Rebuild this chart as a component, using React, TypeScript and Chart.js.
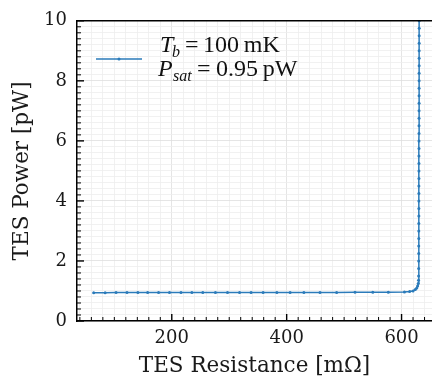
import React, { useEffect, useRef } from 'react';
import { Chart, registerables } from 'chart.js';

Chart.register(...registerables);

// TES resistance [mΩ]
const resistance: number[] = [
  64, 84, 103, 122, 141, 158, 177, 196, 216, 235, 254, 276, 297, 318, 338, 359,
  383, 406, 430, 458, 487, 519, 550, 577, 605, 614, 620, 624, 626.5, 628, 629, 629.6,
  629.7, 629.8, 629.85, 629.9, 629.95, 630.0, 630.0, 630.05, 630.1, 630.1, 630.15,
  630.2, 630.2, 630.25, 630.25, 630.3, 630.3, 630.35, 630.35, 630.4, 630.4, 630.45,
  630.45, 630.5, 630.5, 630.5, 630.55, 630.55, 630.6, 630.6, 630.6, 630.65, 630.65,
  630.7, 630.7, 630.7, 630.75,
];
// TES power [pW]
const power: number[] = [
  0.94, 0.945, 0.948, 0.95, 0.95, 0.95, 0.95, 0.95, 0.95, 0.95, 0.95, 0.95, 0.95, 0.95, 0.95, 0.95,
  0.95, 0.95, 0.95, 0.95, 0.952, 0.955, 0.957, 0.96, 0.965, 0.98, 1.0, 1.05, 1.1, 1.17, 1.25, 1.36,
  1.5, 1.75, 2.0, 2.25, 2.5, 2.75, 3.0, 3.25, 3.5, 3.75, 4.0,
  4.25, 4.5, 4.75, 5.0, 5.25, 5.5, 5.75, 6.0, 6.25, 6.5, 6.75,
  7.0, 7.25, 7.5, 7.75, 8.0, 8.25, 8.5, 8.75, 9.0, 9.25, 9.5,
  9.75, 10.0, 10.25, 10.5,
];

const xMajorTicks: number[] = [200, 400, 600];
const yMajorTicks: number[] = [0, 2, 4, 6, 8, 10];
const xRange: number[] = [35, 653];
const yRange: number[] = [0, 10];

const legendT = { sym: 'T', sub: 'b', rest: '100\u2009mK' };
const legendP = { sym: 'P', sub: 'sat', rest: '0.95\u2009pW' };

const LINE_COLOR = '#2b7bba';
const SERIF = '"DejaVu Serif", serif';
const MATH = '"Liberation Serif", "DejaVu Serif", serif';

const near = (a: number, b: number) => Math.abs(a - b) < 1e-6;
const isXMajor = (v: number) => xMajorTicks.some((t) => near(t, v));
const isYMajor = (v: number) => yMajorTicks.some((t) => near(t, v));

const decorPlugin = {
  id: 'decor',
  afterDraw(chart: any) {
    const { ctx, chartArea: a, scales } = chart;
    const xs = scales.x;
    const ys = scales.y;
    ctx.save();
    ctx.strokeStyle = '#000';
    // inward ticks, bottom axis
    xs.ticks.forEach((t: any) => {
      const px = xs.getPixelForValue(t.value);
      if (px < a.left || px > a.right) return;
      const major = isXMajor(t.value);
      ctx.lineWidth = major ? 1.4 : 1;
      ctx.beginPath();
      ctx.moveTo(px, a.bottom);
      ctx.lineTo(px, a.bottom - (major ? 7 : 4));
      ctx.stroke();
    });
    // inward ticks, left axis
    ys.ticks.forEach((t: any) => {
      const py = ys.getPixelForValue(t.value);
      const major = isYMajor(t.value);
      ctx.lineWidth = major ? 1.4 : 1;
      ctx.beginPath();
      ctx.moveTo(a.left, py);
      ctx.lineTo(a.left + (major ? 7 : 4), py);
      ctx.stroke();
    });
    // top spine
    ctx.lineWidth = 1.5;
    ctx.beginPath();
    ctx.moveTo(a.left - 0.75, a.top);
    ctx.lineTo(a.right, a.top);
    ctx.stroke();

    // legend
    ctx.strokeStyle = LINE_COLOR;
    ctx.lineWidth = 1.5;
    ctx.beginPath();
    ctx.moveTo(96, 59);
    ctx.lineTo(142, 59);
    ctx.stroke();
    ctx.fillStyle = LINE_COLOR;
    ctx.beginPath();
    ctx.arc(119, 59, 1.5, 0, Math.PI * 2);
    ctx.fill();

    ctx.fillStyle = '#111';
    ctx.textBaseline = 'alphabetic';
    ctx.textAlign = 'left';
    const drawLine = (
      item: { sym: string; sub: string; rest: string },
      base: number,
      symX: number,
      subX: number,
      eqX: number,
      restX: number,
    ) => {
      ctx.font = `italic 24px ${MATH}`;
      ctx.fillText(item.sym, symX, base);
      ctx.font = `italic 16px ${MATH}`;
      ctx.fillText(item.sub, subX, base + 5);
      ctx.font = `24px ${MATH}`;
      ctx.fillText('=', eqX, base);
      ctx.fillText(item.rest, restX, base);
    };
    drawLine(legendT, 52, 160, 172, 185, 203);
    drawLine(legendP, 76, 158, 173, 197, 216);
    ctx.restore();
  },
};

export default function App() {
  const ref = useRef<HTMLCanvasElement | null>(null);

  useEffect(() => {
    document.body.style.margin = '0';
    document.body.style.overflow = 'hidden';
    const canvas = ref.current;
    if (!canvas) return;
    const data = resistance.map((r, i) => ({ x: r, y: power[i] }));
    const chart = new Chart(canvas, {
      type: 'line',
      data: {
        datasets: [
          {
            label: 'Tb = 100 mK, Psat = 0.95 pW',
            data,
            borderColor: LINE_COLOR,
            backgroundColor: LINE_COLOR,
            borderWidth: 1.5,
            pointRadius: 1.5,
            pointBorderWidth: 0,
            pointBackgroundColor: LINE_COLOR,
            tension: 0,
            fill: false,
          },
        ],
      },
      options: {
        responsive: false,
        animation: false,
        events: [],
        layout: { padding: { top: 15, left: 0, right: 0, bottom: 0 } },
        plugins: { legend: { display: false }, tooltip: { enabled: false } },
        scales: {
          x: {
            type: 'linear',
            min: xRange[0],
            max: xRange[1],
            afterFit: (s: any) => {
              s.height = 59;
            },
            border: { display: true, color: '#000', width: 1.5 },
            grid: {
              drawTicks: false,
              color: (c: any) => (isXMajor(c.tick.value) ? '#dedede' : '#eeeeee'),
              lineWidth: 0.8,
            },
            ticks: {
              stepSize: 20,
              includeBounds: false,
              autoSkip: false,
              maxRotation: 0,
              padding: 7,
              color: '#1a1a1a',
              font: { family: SERIF, size: 18 },
              callback: (v: any) => (isXMajor(Number(v)) ? String(Math.round(Number(v))) : ''),
            },
            title: {
              display: true,
              text: 'TES Resistance [m\u03A9]',
              color: '#1a1a1a',
              font: { family: SERIF, size: 21.5 },
              padding: { top: 0, bottom: 1 },
            },
          },
          y: {
            type: 'linear',
            min: yRange[0],
            max: yRange[1],
            afterFit: (s: any) => {
              s.width = 77;
            },
            border: { display: true, color: '#000', width: 1.5 },
            grid: {
              drawTicks: false,
              color: (c: any) => (isYMajor(c.tick.value) ? '#dedede' : '#eeeeee'),
              lineWidth: 0.8,
            },
            ticks: {
              stepSize: 0.2,
              autoSkip: false,
              padding: 10,
              color: '#1a1a1a',
              font: { family: SERIF, size: 18 },
              callback: (v: any) => (isYMajor(Number(v)) ? String(Math.round(Number(v))) : ''),
            },
            title: {
              display: true,
              text: 'TES Power [pW]',
              color: '#1a1a1a',
              font: { family: SERIF, size: 21.5 },
              padding: { top: 10, bottom: 0 },
            },
          },
        },
      },
      plugins: [decorPlugin],
    });
    return () => chart.destroy();
  }, []);

  return (
    <div style={{ width: 432, height: 380, overflow: 'hidden' }}>
      <canvas ref={ref} width={436} height={380} style={{ display: 'block', width: 436, height: 380 }} />
    </div>
  );
}
